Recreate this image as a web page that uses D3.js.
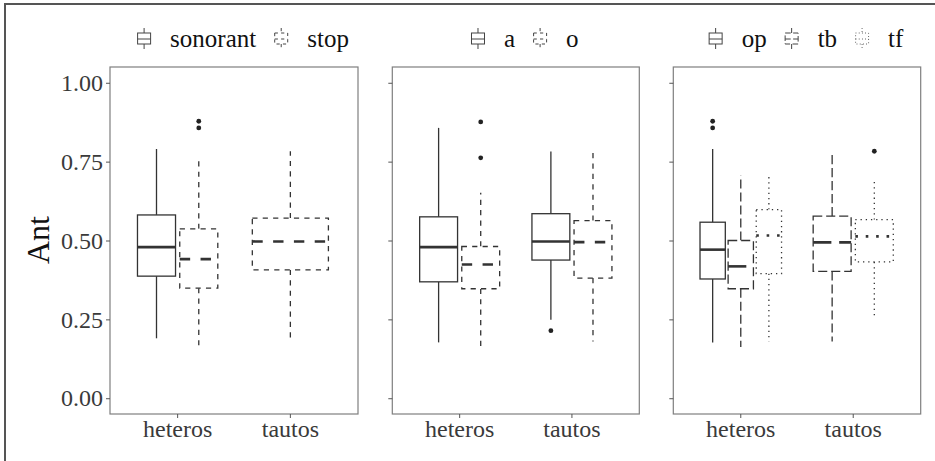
<!DOCTYPE html>
<meta charset="utf-8">
<script src="https://d3js.org/d3.v7.min.js"></script>
<style>
  body { margin: 0; background: #fff; }
  text { font-family: "Liberation Serif", "Times New Roman", serif; }
</style>
<svg id="chart" width="935" height="461"></svg>

<script>
  // ---- data ----
  const categories = ["heteros", "tautos"];
  const yTicks = [0, 0.25, 0.5, 0.75, 1];

  // stats: [lower whisker, q1, median, q3, upper whisker]
  const mannerGroups = ["sonorant", "stop"];
  const mannerBoxes = [
    { x: "heteros", g: "sonorant", stats: [0.190, 0.387, 0.479, 0.581, 0.790], out: [] },
    { x: "heteros", g: "stop", stats: [0.162, 0.349, 0.441, 0.537, 0.759], out: [0.878, 0.857] },
    { x: "tautos", g: "stop", stats: [0.187, 0.407, 0.497, 0.571, 0.783], out: [] }
  ];

  const vowelGroups = ["a", "o"];
  const vowelBoxes = [
    { x: "heteros", g: "a", stats: [0.177, 0.369, 0.479, 0.575, 0.857], out: [] },
    { x: "heteros", g: "o", stats: [0.162, 0.347, 0.424, 0.481, 0.651], out: [0.876, 0.762] },
    { x: "tautos", g: "a", stats: [0.249, 0.438, 0.497, 0.585, 0.782], out: [0.214] },
    { x: "tautos", g: "o", stats: [0.180, 0.381, 0.495, 0.563, 0.778], out: [] }
  ];

  const typeGroups = ["op", "tb", "tf"];
  const typeBoxes = [
    { x: "heteros", g: "op", stats: [0.177, 0.378, 0.471, 0.558, 0.790], out: [0.878, 0.857] },
    { x: "heteros", g: "tb", stats: [0.162, 0.347, 0.418, 0.500, 0.707], out: [] },
    { x: "heteros", g: "tf", stats: [0.180, 0.395, 0.516, 0.598, 0.709], out: [] },
    { x: "tautos", g: "tb", stats: [0.180, 0.402, 0.494, 0.577, 0.780], out: [] },
    { x: "tautos", g: "tf", stats: [0.259, 0.432, 0.513, 0.566, 0.688], out: [0.783] }
  ];

  // ---- layout ----
  const width = 935, height = 461;
  const plotTop = 67, plotBottom = 414;
  const lwd = 1.3;
  const ink = "#333333";
  const serif = '"Liberation Serif", "Times New Roman", serif';
  const dashes = { solid: null, dashed: [4, 4], longdash: [7, 3], dotted: [1, 3] };

  const panels = [
    { groups: mannerGroups, boxes: mannerBoxes, types: ["solid", "dashed"], x0: 110, x1: 358, labels: true },
    { groups: vowelGroups, boxes: vowelBoxes, types: ["solid", "dashed"], x0: 392.3, x1: 639.3, labels: false },
    { groups: typeGroups, boxes: typeBoxes, types: ["solid", "longdash", "dotted"], x0: 673.3, x1: 920.7, labels: false }
  ];

  const svg = d3.select("#chart");

  // outer frame (left and top edges only visible)
  svg.append("path")
    .attr("d", `M5,${height} V4 H${width}`)
    .attr("fill", "none")
    .attr("stroke", "#555")
    .attr("stroke-width", 2);

  const y = d3.scaleLinear().domain([-0.05, 1.05]).range([plotBottom, plotTop]);

  function dash(type, w) {
    const d = dashes[type];
    return d ? d.map(v => v * w).join(",") : null;
  }

  panels.forEach(p => {
    const g = svg.append("g");
    const x = d3.scaleBand().domain(categories).range([p.x0, p.x1])
      .paddingInner(0).paddingOuter(0.1);
    const step = x.step();

    // panel border
    g.append("rect")
      .attr("x", p.x0).attr("y", plotTop)
      .attr("width", p.x1 - p.x0).attr("height", plotBottom - plotTop)
      .attr("fill", "white").attr("stroke", "#7f7f7f").attr("stroke-width", 1.2);

    // axes
    const yAxis = d3.axisLeft(y).tickValues(yTicks).tickSize(4).tickPadding(3)
      .tickFormat(p.labels ? d3.format(".2f") : "");
    const ya = g.append("g").attr("transform", `translate(${p.x0},0)`).call(yAxis);
    const xa = g.append("g").attr("transform", `translate(0,${plotBottom})`)
      .call(d3.axisBottom(x).tickSize(4).tickPadding(4));
    [ya, xa].forEach(a => {
      a.attr("font-family", serif);
      a.select(".domain").remove();
      a.selectAll("line").attr("stroke", "#555").attr("stroke-width", 1);
      a.selectAll("text").attr("fill", "#3a3a3a").style("font-size", "24px")
        .style("font-family", serif);
    });
    xa.selectAll("text").attr("dy", "0.64em");

    // boxes, dodged within each category
    p.boxes.forEach(b => {
      const present = p.boxes.filter(o => o.x === b.x).map(o => o.g);
      const n = present.length;
      const slot = 0.75 * step / n;
      const cx = x(b.x) + step / 2 - 0.375 * step + slot * (present.indexOf(b.g) + 0.5);
      const bw = 0.9 * slot;
      const type = p.types[p.groups.indexOf(b.g)];
      const [lo, q1, med, q3, hi] = b.stats;
      const bg = g.append("g");

      bg.append("line").attr("x1", cx).attr("x2", cx).attr("y1", y(q3)).attr("y2", y(hi));
      bg.append("line").attr("x1", cx).attr("x2", cx).attr("y1", y(q1)).attr("y2", y(lo));
      bg.append("rect").attr("x", cx - bw / 2).attr("y", y(q3))
        .attr("width", bw).attr("height", y(q1) - y(q3)).attr("fill", "white");
      bg.selectAll("line, rect")
        .attr("stroke", ink).attr("stroke-width", lwd)
        .attr("stroke-dasharray", dash(type, lwd));
      bg.append("line").attr("x1", cx - bw / 2).attr("x2", cx + bw / 2)
        .attr("y1", y(med)).attr("y2", y(med))
        .attr("stroke", ink).attr("stroke-width", lwd * 2)
        .attr("stroke-dasharray", dash(type, lwd * 2));

      bg.selectAll("circle").data(b.out).join("circle")
        .attr("cx", cx).attr("cy", d => y(d)).attr("r", 2.4).attr("fill", "#222");
    });

    // legend above the panel
    const leg = g.append("g");
    let pos = 0;
    p.groups.forEach((name, i) => {
      const type = p.types[i];
      const k = leg.append("g").attr("transform", `translate(${pos},39)`);
      k.append("line").attr("x1", 0).attr("x2", 0).attr("y1", -11).attr("y2", -6);
      k.append("line").attr("x1", 0).attr("x2", 0).attr("y1", 5).attr("y2", 10);
      k.append("rect").attr("x", -6.5).attr("y", -6).attr("width", 13).attr("height", 11).attr("fill", "white");
      k.append("line").attr("x1", -6.5).attr("x2", 6.5).attr("y1", 0).attr("y2", 0);
      k.selectAll("line, rect").attr("fill", "none")
        .attr("stroke", "#444").attr("stroke-width", 1)
        .attr("stroke-dasharray", dash(type, 0.8));
      const t = leg.append("text").attr("x", pos + 26).attr("y", 47)
        .attr("fill", "#111").style("font-family", serif).style("font-size", "25px").text(name);
      pos += 26 + t.node().getComputedTextLength() + 25;
    });
    const legW = pos - 25 + 7;
    const cxPanel = (p.x0 + p.x1) / 2 + 9;
    leg.attr("transform", `translate(${cxPanel - legW / 2 + 7},0)`);
  });

  // y axis title
  svg.append("text")
    .attr("transform", `translate(49,240) rotate(-90)`)
    .attr("text-anchor", "middle")
    .attr("fill", "#111")
    .style("font-family", serif)
    .style("font-size", "32px")
    .text("Ant");
</script>
